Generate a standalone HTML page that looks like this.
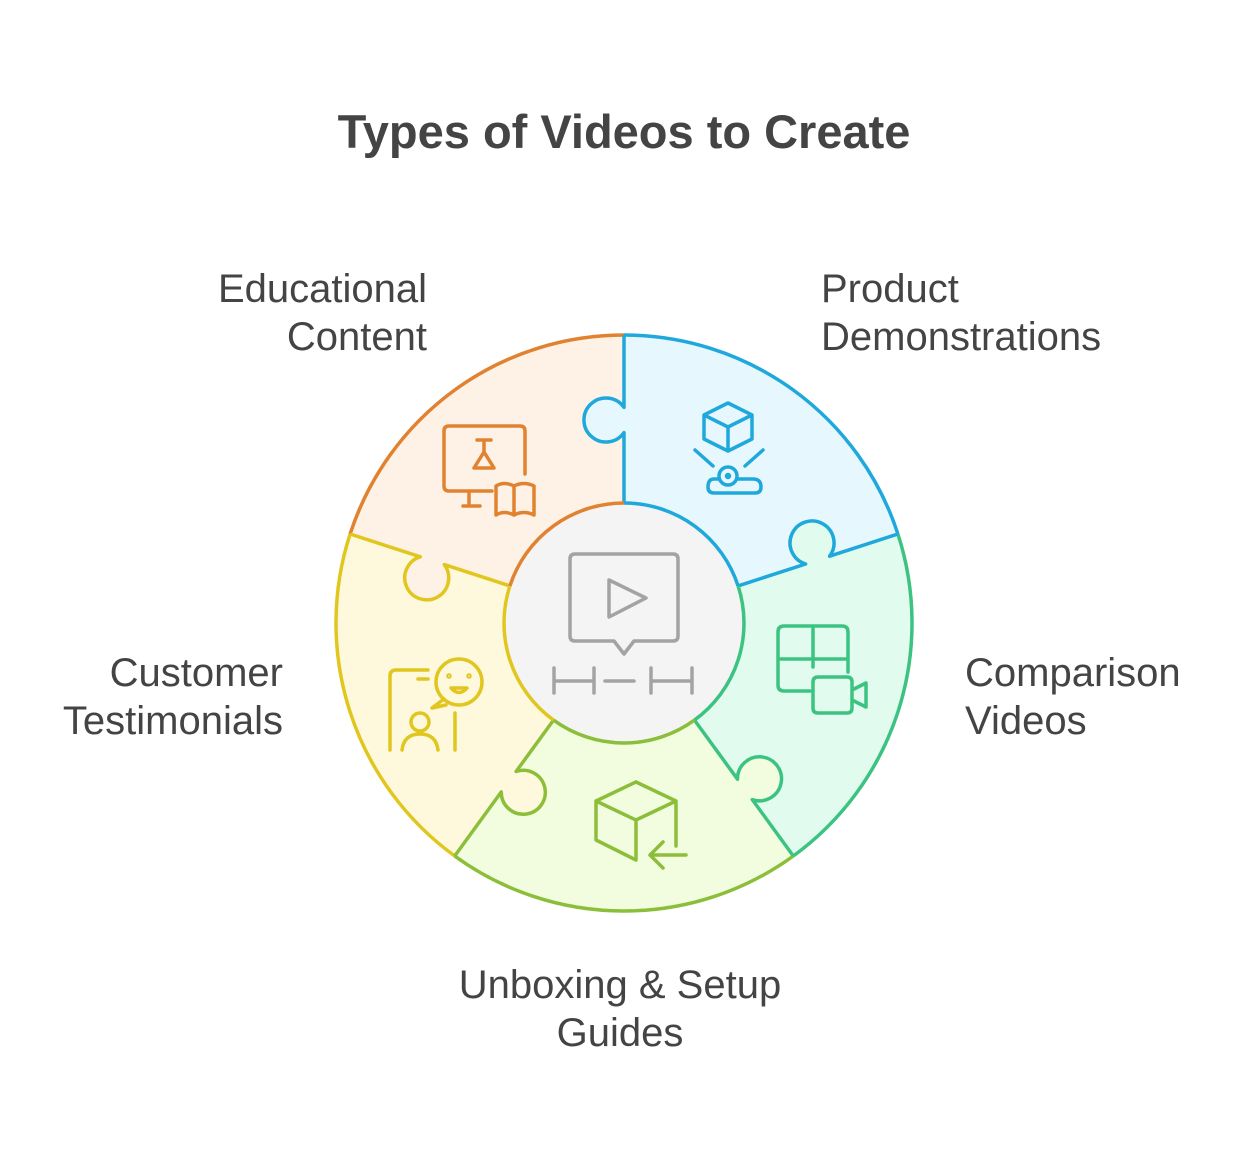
<!DOCTYPE html>
<html><head><meta charset="utf-8"><style>
body{margin:0;background:#fff;width:1248px;height:1152px;overflow:hidden;font-family:"Liberation Sans",sans-serif}
</style></head><body>
<svg width="1248" height="1152" viewBox="0 0 1248 1152" xmlns="http://www.w3.org/2000/svg">
<text x="624" y="148" text-anchor="middle" font-size="47" font-weight="bold" fill="#444">Types of Videos to Create</text>
<g font-size="40" fill="#444">
<text x="427" y="302" text-anchor="end">Educational</text>
<text x="427" y="350" text-anchor="end">Content</text>
<text x="821" y="302">Product</text>
<text x="821" y="350">Demonstrations</text>
<text x="965" y="686">Comparison</text>
<text x="965" y="734">Videos</text>
<text x="283" y="686" text-anchor="end">Customer</text>
<text x="283" y="734" text-anchor="end">Testimonials</text>
<text x="620" y="998" text-anchor="middle">Unboxing &amp; Setup</text>
<text x="620" y="1046" text-anchor="middle">Guides</text>
</g>
<path d="M624 335 A288 288 0 0 1 897.9 534 L738.1 585.9 A120 120 0 0 0 624 503 Z" fill="#E6F7FD"/>
<path d="M897.9 534 A288 288 0 0 1 793.3 856 L694.5 720.1 A120 120 0 0 0 738.1 585.9 Z" fill="#E1FBEF"/>
<path d="M793.3 856 A288 288 0 0 1 454.7 856 L553.5 720.1 A120 120 0 0 0 694.5 720.1 Z" fill="#F2FDDF"/>
<path d="M454.7 856 A288 288 0 0 1 350.1 534 L509.9 585.9 A120 120 0 0 0 553.5 720.1 Z" fill="#FEF9DD"/>
<path d="M350.1 534 A288 288 0 0 1 624 335 L624 503 A120 120 0 0 0 509.9 585.9 Z" fill="#FEF1E6"/>
<!-- tab fills -->
<path d="M624 407.4 A22 22 0 1 0 624 432.6 Z" fill="#E6F7FD"/>
<path d="M805.6 564 A22 22 0 1 1 829.6 556.2 Z" fill="#E1FBEF"/>
<path d="M737.5 779.2 A22 22 0 1 1 752.3 799.6 Z" fill="#F2FDDF"/>
<path d="M516.1 771.5 A22 22 0 1 1 501.3 791.9 Z" fill="#FEF9DD"/>
<path d="M444.3 564.6 A22 22 0 1 1 420.3 556.8 Z" fill="#FEF1E6"/>
<g fill="none" stroke-width="3.5" stroke-linejoin="round">
<path d="M624 335 A288 288 0 0 1 897.9 534" stroke="#1FA8DB"/>
<path d="M897.9 534 A288 288 0 0 1 793.3 856" stroke="#3CC381"/>
<path d="M793.3 856 A288 288 0 0 1 454.7 856" stroke="#8CBE3A"/>
<path d="M454.7 856 A288 288 0 0 1 350.1 534" stroke="#E1C61F"/>
<path d="M350.1 534 A288 288 0 0 1 624 335" stroke="#E0822F"/>
<path d="M624 335 L624 407.4 A22 22 0 1 0 624 432.6 L624 503" stroke="#1FA8DB"/>
<path d="M897.9 534 L829.6 556.2 A22 22 0 1 0 805.6 564 L738.1 585.9" stroke="#1FA8DB"/>
<path d="M793.3 856 L752.3 799.6 A22 22 0 1 0 737.5 779.2 L694.5 720.1" stroke="#3CC381"/>
<path d="M454.7 856 L501.3 791.9 A22 22 0 1 0 516.1 771.5 L553.5 720.1" stroke="#8CBE3A"/>
<path d="M350.1 534 L420.3 556.8 A22 22 0 1 0 444.3 564.6 L509.9 585.9" stroke="#E1C61F"/>
</g>
<!-- center -->
<circle cx="624" cy="623" r="120" fill="#F4F4F4"/>
<g fill="none" stroke-width="3.5">
<path d="M624 503 A120 120 0 0 1 738.1 585.9" stroke="#1FA8DB"/>
<path d="M738.1 585.9 A120 120 0 0 1 694.5 720.1" stroke="#3CC381"/>
<path d="M694.5 720.1 A120 120 0 0 1 553.5 720.1" stroke="#8CBE3A"/>
<path d="M553.5 720.1 A120 120 0 0 1 509.9 585.9" stroke="#E1C61F"/>
<path d="M509.9 585.9 A120 120 0 0 1 624 503" stroke="#E0822F"/>
</g>
<g fill="none" stroke="#A3A3A3" stroke-width="3.5" stroke-linecap="round" stroke-linejoin="round">
<path d="M575 554 H673 Q678 554 678 559 V636 Q678 641 673 641 H634 L624 654 L614 641 H575 Q570 641 570 636 V559 Q570 554 575 554 Z"/>
<path d="M609 580 L646 598 L609 617 Z"/>
<path d="M554 668 V693 M554 681 H594 M594 668 V693 M605 681 H634 M651 668 V693 M651 681 H692 M692 668 V693"/>
</g>
<!-- blue icon -->
<g fill="none" stroke="#1FA8DB" stroke-width="3.5" stroke-linecap="round" stroke-linejoin="round">
<path d="M728 403 L752 415 L752 439 L728 451 L704 439 L704 415 Z M704 415 L728 427 L752 415 M728 427 V451"/>
<path d="M695 450 L713 466 M763 450 L745 466"/>
<circle cx="728" cy="476" r="9"/><circle cx="728" cy="476" r="1.5"/>
<path d="M719 479 H714 Q708 479 708 487 Q708 493 714 493 H755 Q761 493 761 487 Q761 479 753 479 H737"/>
</g>
<!-- orange icon -->
<g fill="none" stroke="#E0822F" stroke-width="3.5" stroke-linecap="round" stroke-linejoin="round">
<path d="M525 474 V431 Q525 426 520 426 H449 Q444 426 444 431 V486 Q444 491 449 491 H492 M469 491 V506 M463 506 H480"/>
<path d="M477 440 H491 M484 440 V452 L474 468 H494 L484 452"/>
<path d="M496 486 Q504 481 514 486 V515 Q504 510 496 515 Z M514 486 Q524 481 534 486 V515 Q524 510 514 515"/>
</g>
<!-- green icon -->
<g fill="none" stroke="#3CC381" stroke-width="3.5" stroke-linecap="round" stroke-linejoin="round">
<path d="M810 691 H784 Q778 691 778 685 V632 Q778 626 784 626 H842 Q848 626 848 632 V672 M778 659 H848 M813 626 V667"/>
<path d="M818 677 H847 Q852 677 852 682 V708 Q852 713 847 713 H818 Q813 713 813 708 V682 Q813 677 818 677 Z M852 690 L866 683 V707 L852 700"/>
</g>
<!-- lime icon -->
<g fill="none" stroke="#8CBE3A" stroke-width="3.5" stroke-linecap="round" stroke-linejoin="round">
<path d="M636 782 L676 801 V846 M596 801 L636 782 M596 801 V840 L636 860 V820 L676 801 M596 801 L636 820"/>
<path d="M686 855 H650 M663 842 L650 855 L663 868"/>
</g>
<!-- yellow icon -->
<g fill="none" stroke="#E1C61F" stroke-width="3.5" stroke-linecap="round" stroke-linejoin="round">
<path d="M390 750 V676 Q390 670 396 670 H428 M418 679 H428 M455 713 V750"/>
<circle cx="459" cy="682" r="23"/>
<path d="M444 699 L432 708 L446 705"/>
<circle cx="449" cy="676" r="1"/><circle cx="469" cy="676" r="1"/>
<path d="M451 688 Q459 697 467 688 Z"/>
<circle cx="420" cy="722" r="9"/>
<path d="M402 750 Q404 734 420 734 Q436 734 438 750"/>
</g>
</svg>
</body></html>
